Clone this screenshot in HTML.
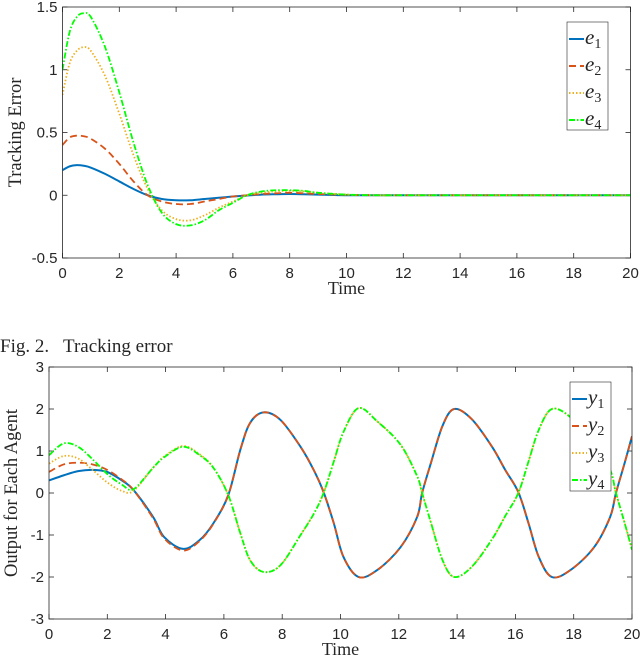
<!DOCTYPE html>
<html><head><meta charset="utf-8"><style>
body{margin:0;background:#fff;width:640px;height:667px;overflow:hidden}
svg{display:block}
.tk{font-family:"Liberation Sans",sans-serif;font-size:15px;fill:#262626}
.sf{font-family:"Liberation Serif",serif;fill:#262626}
</style></head><body>
<svg id="s" width="640" height="667" viewBox="0 0 640 667" xmlns="http://www.w3.org/2000/svg">
<text class="sf" x="0" y="352" font-size="19" fill="#000" xml:space="preserve">Fig. 2.   Tracking error</text>
</svg>
<script>
// ---- chart 1 data ----
const eT1=[0,0.25,0.5,0.75,1,1.5,2,2.5,3,3.5,4,4.5,5,5.5,6,6.5,7,7.5,8,8.5,9,10,11,12,14,16,18,20];
const e1=[0.2,0.23,0.24,0.235,0.22,0.17,0.11,0.05,0.0,-0.03,-0.04,-0.04,-0.03,-0.02,-0.01,-0.002,0.005,0.008,0.01,0.008,0.005,0,0,0,0,0,0,0];
const e2=[0.4,0.46,0.475,0.47,0.45,0.37,0.25,0.11,0.0,-0.05,-0.07,-0.07,-0.05,-0.03,-0.01,0.0,0.01,0.015,0.02,0.015,0.01,0.003,0,0,0,0,0,0];
const e3=[0.8,1.05,1.15,1.18,1.15,0.95,0.65,0.32,0.05,-0.12,-0.19,-0.2,-0.16,-0.1,-0.05,0.0,0.02,0.03,0.035,0.03,0.02,0.005,0,0,0,0,0,0];
const e4=[1.0,1.3,1.42,1.45,1.42,1.18,0.82,0.42,0.08,-0.14,-0.23,-0.24,-0.2,-0.12,-0.06,0.0,0.03,0.04,0.04,0.035,0.02,0.005,0,0,0,0,0,0];
const xTicks1=[0,2,4,6,8,10,12,14,16,18,20];
const yTicks1=[-0.5,0,0.5,1,1.5];
const yTickLabels1=["-0.5","0","0.5","1","1.5"];
// ---- chart 2 data ----
const yT=[0,0.5,1,1.5,2,2.5,2.9,3.57,3.95,4.6,5.17,5.64,6.15,6.56,6.9,7.36,7.94,8.63,9.08,9.42,9.77,10.1,10.62,11.27,12.06,12.63,12.8,13.1,13.5,13.9,14.5,15.2,15.65,16.1,16.45,16.8,17.25,17.9,18.7,19.25,19.45,19.75,20];
const y1=[0.3,0.42,0.52,0.55,0.5,0.3,0.07,-0.57,-1.05,-1.33,-1.12,-0.72,-0.05,1.02,1.67,1.92,1.74,1.1,0.55,0.02,-0.72,-1.52,-2.0,-1.83,-1.29,-0.57,0,0.71,1.6,2.0,1.76,1.1,0.55,0.02,-0.72,-1.52,-2.0,-1.83,-1.29,-0.57,0,0.72,1.35];
const y2=[0.5,0.68,0.72,0.68,0.55,0.32,0.07,-0.6,-1.08,-1.37,-1.14,-0.73,-0.05,1.02,1.67,1.92,1.74,1.1,0.55,0.02,-0.72,-1.52,-2.0,-1.83,-1.29,-0.57,0,0.71,1.6,2.0,1.76,1.1,0.55,0.02,-0.72,-1.52,-2.0,-1.83,-1.29,-0.57,0,0.72,1.35];
const y3=[0.7,0.88,0.82,0.55,0.25,0.05,0.05,0.6,0.87,1.12,0.92,0.6,-0.05,-0.95,-1.6,-1.88,-1.72,-1.0,-0.5,0,0.75,1.45,2.02,1.7,1.15,0.4,0,-0.7,-1.6,-2.0,-1.76,-1.1,-0.55,0,0.75,1.5,2.0,1.8,1.2,0.55,0,-0.72,-1.35];
const y4=[0.9,1.18,1.1,0.8,0.45,0.2,0.09,0.6,0.85,1.1,0.9,0.6,-0.05,-0.95,-1.6,-1.88,-1.72,-1.0,-0.5,0,0.75,1.45,2.02,1.7,1.15,0.4,0,-0.7,-1.6,-2.0,-1.76,-1.1,-0.55,0,0.75,1.5,2.0,1.8,1.2,0.55,0,-0.72,-1.35];
const xTicks2=[0,2,4,6,8,10,12,14,16,18,20];
const yTicks2=[-3,-2,-1,0,1,2,3];

const NS="http://www.w3.org/2000/svg";
const svg=document.getElementById('s');
function mk(tag,attrs,parent){const e=document.createElementNS(NS,tag);for(const k in attrs)e.setAttribute(k,attrs[k]);(parent||svg).appendChild(e);return e;}
function path(xs,ys,sx,sy){
  const p=xs.map((x,i)=>[sx(x),sy(ys[i])]);
  let d=`M${p[0][0].toFixed(2)},${p[0][1].toFixed(2)}`;
  for(let i=0;i<p.length-1;i++){
    const p0=p[Math.max(0,i-1)],p1=p[i],p2=p[i+1],p3=p[Math.min(p.length-1,i+2)];
    const c1=[p1[0]+(p2[0]-p0[0])/6,p1[1]+(p2[1]-p0[1])/6];
    const c2=[p2[0]-(p3[0]-p1[0])/6,p2[1]-(p3[1]-p1[1])/6];
    d+=`C${c1[0].toFixed(2)},${c1[1].toFixed(2)} ${c2[0].toFixed(2)},${c2[1].toFixed(2)} ${p2[0].toFixed(2)},${p2[1].toFixed(2)}`;
  }
  return d;
}
const styles=[{c:"#0072BD",d:""},{c:"#D95319",d:"7,4"},{c:"#EDB120",d:"1.5,2"},{c:"#00FF00",d:"6,2,1.5,2"}];

function chart(o){
  const g=mk('g',{});
  
  
  const sx=v=>o.L+(v-o.x0)/(o.x1-o.x0)*(o.R-o.L);
  const sy=v=>o.B-(v-o.y0)/(o.y1-o.y0)*(o.B-o.T);
  o.xt.forEach(v=>{
    const x=sx(v);
    mk('line',{x1:x,x2:x,y1:o.B,y2:o.B-5,stroke:"#262626","stroke-width":0.8},g);
    mk('line',{x1:x,x2:x,y1:o.T,y2:o.T+5,stroke:"#262626","stroke-width":0.8},g);
    const t=mk('text',{x:x,y:o.B+20,"text-anchor":"middle",class:"tk"},g);t.textContent=v;
    
    
  });
  o.yt.forEach((v,i)=>{
    const y=sy(v);
    mk('line',{x1:o.L,x2:o.L+5,y1:y,y2:y,stroke:"#262626","stroke-width":0.8},g);
    mk('line',{x1:o.R,x2:o.R-5,y1:y,y2:y,stroke:"#262626","stroke-width":0.8},g);
    const t=mk('text',{x:o.L-5,y:y+5,"text-anchor":"end",class:"tk"},g);t.textContent=o.ytl?o.ytl[i]:v;
    
    
  });
  const cp=mk('clipPath',{id:o.name+"-clip"},g);mk('rect',{x:o.L,y:o.T,width:o.R-o.L,height:o.B-o.T},cp);
  o.series.forEach((s,i)=>{
    const p=mk('path',{d:path(o.xs,s,sx,sy),fill:"none",stroke:styles[i].c,"stroke-width":i==0?2:1.8,"stroke-dasharray":styles[i].d,"clip-path":`url(#${o.name}-clip)`},g);
    
    
  });
  const ax=mk('rect',{x:o.L,y:o.T,width:o.R-o.L,height:o.B-o.T,fill:"none",stroke:"#262626","stroke-width":0.8},g);
  
  
  const xt=mk('text',{x:(o.L+o.R)/2,y:o.B+36,"text-anchor":"middle",class:"sf","font-size":18},g);xt.textContent="Time";
  
  
  const yc=(o.T+o.B)/2;
  const yt=mk('text',{x:o.yx,y:yc,"text-anchor":"middle",class:"sf","font-size":18.5,transform:`rotate(-90 ${o.yx} ${yc})`},g);yt.textContent=o.ytitle;
  
  
  const lg=mk('g',{},g);
  
  
  mk('rect',{x:o.lx,y:o.ly,width:o.lw,height:o.lh,fill:"#fff",stroke:"#262626","stroke-width":0.6},lg);
  o.labels.forEach((l,i)=>{
    const y=o.ly+17+i*27;
    mk('line',{x1:o.lx+2,x2:o.lx+17,y1:y,y2:y,stroke:styles[i].c,"stroke-width":2,"stroke-dasharray":styles[i].d},lg);
    const t=mk('text',{x:o.lx+18,y:y+5,class:"sf","font-size":21,"font-style":"italic",fill:"#000"},lg);
    
    
    t.textContent=l[0];
    const sub=mk('tspan',{"font-size":14,"font-style":"normal",dy:4},t);sub.textContent=l.slice(1);
  });
}
chart({name:"tracking-error-chart",L:62.5,R:630.5,T:7,B:258,x0:0,x1:20,y0:-0.5,y1:1.5,xt:xTicks1,yt:yTicks1,ytl:yTickLabels1,
  xs:eT1,series:[e1,e2,e3,e4],labels:["e1","e2","e3","e4"],ytitle:"Tracking Error",yx:21,lx:567,ly:22,lw:41,lh:108});
chart({name:"agent-output-chart",L:49,R:632,T:367,B:619,x0:0,x1:20,y0:-3,y1:3,xt:xTicks2,yt:yTicks2,
  xs:yT,series:[y1,y2,y3,y4],labels:["y1","y2","y3","y4"],ytitle:"Output for Each Agent",yx:17,lx:570,ly:382,lw:41,lh:109});
</script>
</body></html>
